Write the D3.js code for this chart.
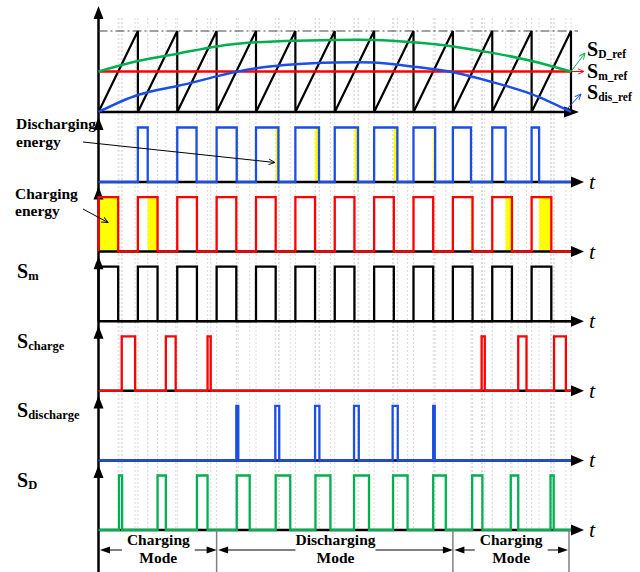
<!DOCTYPE html>
<html>
<head>
<meta charset="utf-8">
<script src="https://cdn.jsdelivr.net/npm/d3@7"></script>
<style>
  body { margin: 0; background: #fff; }
  text { font-family: "Liberation Serif", "Times New Roman", serif; font-weight: bold; }
</style>
</head>
<body>
<div id="chart"></div>
<script>
// time is measured in carrier periods (12 periods shown)
const carrierEdges = [0, 1, 2, 3, 4, 5, 6, 7, 8, 9, 10, 11, 12];

// reference curves, read at each carrier edge
const sdRef  = [0.5, 0.63, 0.72, 0.81, 0.86, 0.88, 0.89, 0.89, 0.86, 0.81, 0.73, 0.63, 0.5];
const smRef  = [0.5, 0.5, 0.5, 0.5, 0.5, 0.5, 0.5, 0.5, 0.5, 0.5, 0.5, 0.5, 0.5];
const disRef = [0, 0.21, 0.32, 0.44, 0.54, 0.59, 0.61, 0.61, 0.56, 0.49, 0.37, 0.22, 0];

// on-time of each period (fraction of the period)
const smDuty  = [0.5, 0.5, 0.5, 0.5, 0.5, 0.5, 0.5, 0.5, 0.5, 0.5, 0.5, 0.5];
const disDuty = [0, 0.25, 0.49, 0.51, 0.57, 0.6, 0.59, 0.59, 0.55, 0.46, 0.34, 0.19];

// switch pulses [on, off]
const chargePulses = [[0.59, 0.93], [1.71, 1.96], [2.77, 2.85], [9.73, 9.81], [10.66, 10.87], [11.57, 11.87]];
const dischargePulses = [[3.5, 3.55], [4.49, 4.59], [5.5, 5.61], [6.49, 6.61], [7.47, 7.6], [8.5, 8.54]];
const sdPulses = [[0.52, 0.6], [1.5, 1.71], [2.5, 2.77], [3.51, 3.84], [4.5, 4.87], [5.51, 5.89],
                  [6.49, 6.87], [7.48, 7.85], [8.5, 8.82], [9.49, 9.75], [10.47, 10.66], [11.48, 11.56]];

const modeNames = [["Charging", "Mode"], ["Discharging", "Mode"], ["Charging", "Mode"]];
const modeEdges = [0, 3, 9, 12];

const blue = "#1b4fe3", green = "#00b050", red = "#ff0000", yellow = "#ffff00";

const W = 640, H = 572;
const svg = d3.select("#chart").append("svg").attr("width", W).attr("height", H);

const x = d3.scaleLinear().domain([0, 12]).range([98.5, 571]);
const yTop = d3.scaleLinear().domain([0, 1]).range([112, 31]);

const dutyToPulses = duty => duty.map((d, k) => [k, k + d]).filter(p => p[1] > p[0]);
const disPulses = dutyToPulses(disDuty);
const smPulses = dutyToPulses(smDuty);

// energy areas: blue on while Sm off, Sm on while blue off
const disEnergy = disDuty.map((d, k) => [k + smDuty[k], k + d]).filter(p => p[1] > p[0]);
const chgEnergy = smDuty.map((d, k) => [k + disDuty[k], k + d]).filter(p => p[1] > p[0]);

const panels = [
  { pulses: disPulses, color: blue, fill: disEnergy },
  { pulses: smPulses, color: red, fill: chgEnergy },
  { pulses: smPulses, color: "#000", label: ["S", "m"] },
  { pulses: chargePulses, color: red, label: ["S", "charge"] },
  { pulses: dischargePulses, color: blue, label: ["S", "discharge"] },
  { pulses: sdPulses, color: green, label: ["S", "D"] }
];
panels.forEach((p, i) => {
  p.base = 182 + i * 69.6;
  p.y = d3.scaleLinear().domain([0, 1]).range([p.base, p.base - 54.5]);
});

// light dotted guide lines at every switching edge
let edges = carrierEdges.slice();
[disPulses, smPulses, chargePulses, dischargePulses, sdPulses].forEach(list =>
  list.forEach(p => edges.push(p[0], p[1])));
edges = Array.from(new Set(edges.map(e => Math.round(e * 100) / 100)));
svg.append("g").selectAll("line").data(edges).join("line")
  .attr("x1", d => x(d)).attr("x2", d => x(d))
  .attr("y1", 18).attr("y2", 530)
  .attr("stroke", "#dcdcdc").attr("stroke-width", 1)
  .attr("stroke-dasharray", "2,2");

// yellow energy areas
panels.filter(p => p.fill).forEach(p => {
  svg.append("g").selectAll("rect").data(p.fill).join("rect")
    .attr("x", d => x(d[0])).attr("width", d => Math.max(1.3, x(d[1]) - x(d[0])))
    .attr("y", p.y(1)).attr("height", p.y(0) - p.y(1))
    .attr("fill", yellow);
});

// axes
const axisG = svg.append("g");
axisG.append("line").attr("x1", 98.5).attr("x2", 98.5).attr("y1", 10).attr("y2", 572)
  .attr("stroke", "#000").attr("stroke-width", 2.5);
function upArrow(tipY) {
  axisG.append("path").attr("d", `M98.5,${tipY} L93.5,${tipY + 13} L103.5,${tipY + 13} Z`).attr("fill", "#000");
}
function rightArrow(y, x0, tip) {
  axisG.append("line").attr("x1", 98.5).attr("x2", x0).attr("y1", y).attr("y2", y)
    .attr("stroke", "#000").attr("stroke-width", 2.5);
  axisG.append("path").attr("d", `M${tip},${y} L${x0},${y - 5.5} L${x0},${y + 5.5} Z`).attr("fill", "#000");
}
upArrow(6);
rightArrow(112, 564, 579);
panels.forEach(p => {
  upArrow(p.base - 65);
  rightArrow(p.base, 571, 584);
  svg.append("text").attr("x", 589).attr("y", p.base + 7)
    .style("font-style", "italic").style("font-weight", "normal").style("font-size", "22px").text("t");
});

// top-level dash-dot line of the carrier
svg.append("line").attr("x1", 98.5).attr("x2", 578).attr("y1", yTop(1)).attr("y2", yTop(1))
  .attr("stroke", "#444").attr("stroke-width", 1).attr("stroke-dasharray", "9,3,2,3");

// sawtooth carrier
const sawPts = [[0, 0]];
carrierEdges.slice(1).forEach(t => { sawPts.push([t, 1], [t, 0]); });
const line = d3.line().x(d => x(d[0])).y(d => yTop(d[1]));
svg.append("path").datum(sawPts).attr("d", line)
  .attr("fill", "none").attr("stroke", "#000").attr("stroke-width", 2.2);

// reference curves
const refLine = d3.line().x((d, i) => x(carrierEdges[i])).y(d => yTop(d)).curve(d3.curveNatural);
[[smRef, red], [sdRef, green], [disRef, blue]].forEach(([vals, c]) => {
  svg.append("path").datum(vals).attr("d", refLine)
    .attr("fill", "none").attr("stroke", c).attr("stroke-width", 2.5);
});

// pulse trains
panels.forEach(p => {
  const pts = [[0, 0]];
  p.pulses.forEach(([s, e]) => pts.push([s, 0], [s, 1], [e, 1], [e, 0]));
  pts.push([12, 0]);
  svg.append("path").datum(pts)
    .attr("d", d3.line().x(d => x(d[0])).y(d => p.y(d[1])))
    .attr("fill", "none").attr("stroke", p.color).attr("stroke-width", 2.3)
    .attr("stroke-linejoin", "miter");
});

// arrow markers
const defs = svg.append("defs");
function marker(id, c) {
  defs.append("marker").attr("id", id).attr("viewBox", "0 0 10 10").attr("refX", 9).attr("refY", 5)
    .attr("markerWidth", 7).attr("markerHeight", 7).attr("orient", "auto")
    .append("path").attr("d", "M0,1 L9,5 L0,9").attr("fill", "none").attr("stroke", c).attr("stroke-width", 1.3);
}
marker("mk", "#000"); marker("mg", green); marker("mr", red); marker("mb", blue);

function leader(x1, y1, x2, y2, c, m) {
  svg.append("line").attr("x1", x1).attr("y1", y1).attr("x2", x2).attr("y2", y2)
    .attr("stroke", c).attr("stroke-width", 1).attr("marker-end", `url(#${m})`);
}
leader(83, 142, 275, 162.5, "#000", "mk");
leader(83, 209, 108, 222.5, "#000", "mk");
leader(x(12), yTop(sdRef[12]), 585, 53, green, "mg");
leader(x(12), yTop(smRef[12]), 584, yTop(smRef[12]), red, "mr");
leader(566, 110, 581, 94, blue, "mb");

// left annotations
function textLines(lines, x0, y0, dy) {
  lines.forEach((s, i) => svg.append("text").attr("x", x0).attr("y", y0 + i * dy)
    .style("font-size", "15.5px").text(s));
}
textLines(["Discharging", "energy"], 16, 129, 18);
textLines(["Charging", "energy"], 15, 199, 17);

function sLabel(parts, x0, y0, subSize) {
  const t = svg.append("text").attr("x", x0).attr("y", y0).style("font-size", "20px");
  t.append("tspan").text(parts[0]);
  t.append("tspan").attr("dy", 2).style("font-size", subSize + "px").text(parts[1]);
}
panels.filter(p => p.label).forEach(p => sLabel(p.label, 17, p.base - 43, 12.5));

// right-hand reference labels
sLabel(["S", "D_ref"], 587, 56, 11.5);
sLabel(["S", "m_ref"], 587, 78, 11.5);
sLabel(["S", "dis_ref"], 587, 99, 11.5);

// operating modes along the bottom
const modeG = svg.append("g");
modeEdges.slice(1).forEach(t => {
  modeG.append("line").attr("x1", x(t) - (t === 12 ? 2 : 0)).attr("x2", x(t) - (t === 12 ? 2 : 0))
    .attr("y1", 530).attr("y2", 572).attr("stroke", "#808080").attr("stroke-width", 1.5);
});
modeNames.forEach((lines, i) => {
  const a = x(modeEdges[i]) + 1.5, b = x(modeEdges[i + 1]) - (i === 2 ? 3 : 0);
  const cx = (a + b) / 2;
  const t1 = modeG.append("text").attr("x", cx).attr("y", 545).attr("text-anchor", "middle")
    .style("font-size", "15.5px").text(lines[0]);
  modeG.append("text").attr("x", cx).attr("y", 563).attr("text-anchor", "middle")
    .style("font-size", "15.5px").text(lines[1]);
  const half = t1.node().getComputedTextLength() / 2;
  const gap = lines[0].length > 9 ? 0 : 5;
  [[cx - half - gap, a], [cx + half + gap, b]].forEach(([from, tip]) => {
    const dir = tip > from ? 1 : -1;
    modeG.append("line").attr("x1", from).attr("x2", tip - dir * 8).attr("y1", 550).attr("y2", 550)
      .attr("stroke", "#000").attr("stroke-width", 1);
    modeG.append("path").attr("d", `M${tip},550 L${tip - dir * 10},546.5 L${tip - dir * 10},553.5 Z`)
      .attr("fill", "#000");
  });
});
</script>
</body>
</html>
